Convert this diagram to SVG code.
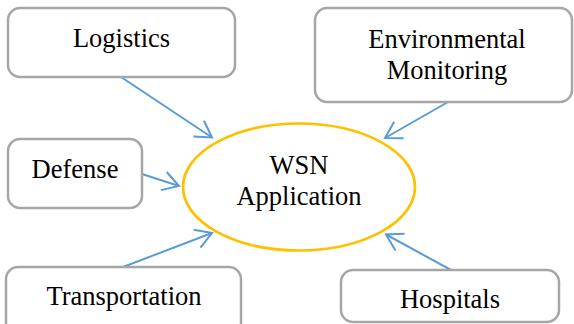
<svg xmlns="http://www.w3.org/2000/svg" width="574" height="324" viewBox="0 0 574 324">
<defs>
<style>
.box{fill:#fff;stroke:#a6a6a6;stroke-width:2.5}
.lbl{font-family:"Liberation Serif","Times New Roman",serif;font-size:26.5px;fill:#000;text-anchor:middle}
.con{stroke:#5b9bd5;stroke-width:2;fill:none;marker-end:url(#arr)}
</style>
<marker id="arr" markerUnits="userSpaceOnUse" markerWidth="22" markerHeight="22" viewBox="0 0 22 22" refX="17" refY="11" orient="auto">
<path d="M1,1.5 L17,11 L1,20.5" fill="none" stroke="#5b9bd5" stroke-width="2"/>
</marker>
</defs>
<rect width="574" height="324" fill="#fff"/>
<g id="connectors">
<line class="con" x1="121" y1="77" x2="212" y2="137.5"/>
<line class="con" x1="448" y1="102" x2="385" y2="138"/>
<line class="con" x1="142" y1="174" x2="179" y2="186"/>
<line class="con" x1="123" y1="267" x2="212" y2="233"/>
<line class="con" x1="451" y1="270" x2="386" y2="234.5"/>
</g>
<g id="wsn">
<ellipse cx="299" cy="187" rx="116" ry="63.5" fill="none" stroke="#ffc000" stroke-width="2.7"/>
<text class="lbl" x="299" y="174">WSN</text>
<text class="lbl" x="299" y="205">Application</text>
</g>
<g id="logistics">
<rect class="box" x="8" y="8" width="227" height="69" rx="12"/>
<text class="lbl" x="121.5" y="47">Logistics</text>
</g>
<g id="environmental">
<rect class="box" x="315" y="8" width="257" height="94" rx="12"/>
<text class="lbl" x="447" y="48">Environmental</text>
<text class="lbl" x="447" y="79">Monitoring</text>
</g>
<g id="defense">
<rect class="box" x="8" y="139" width="134" height="69" rx="12"/>
<text class="lbl" x="75" y="178">Defense</text>
</g>
<g id="transportation">
<rect class="box" x="6" y="267" width="235" height="70" rx="12"/>
<text class="lbl" x="124" y="305">Transportation</text>
</g>
<g id="hospitals">
<rect class="box" x="341" y="270" width="218" height="52" rx="12"/>
<text class="lbl" x="450" y="308">Hospitals</text>
</g>
</svg>
